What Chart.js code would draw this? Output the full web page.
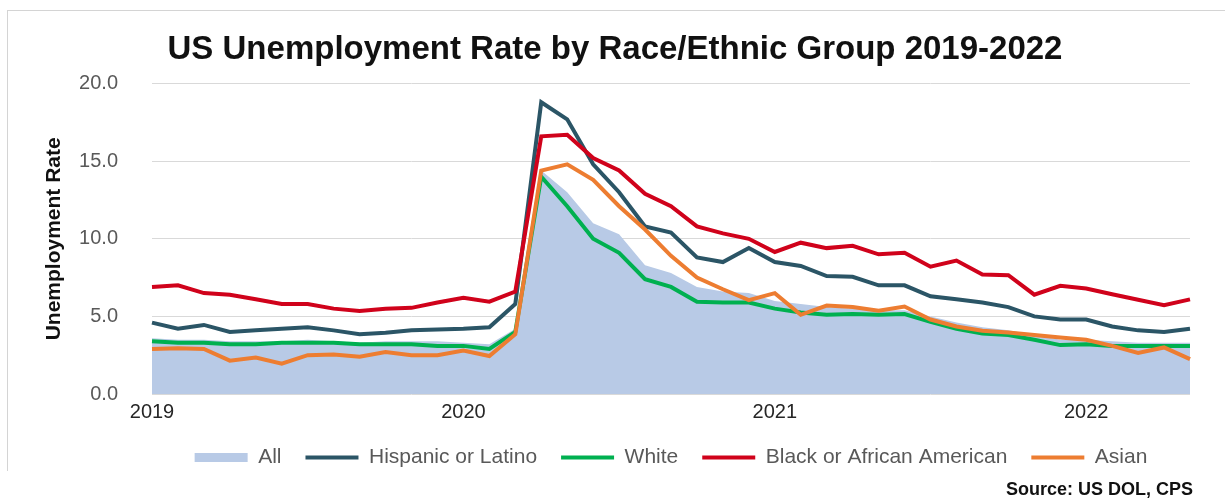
<!DOCTYPE html>
<html>
<head>
<meta charset="utf-8">
<script src="https://cdn.jsdelivr.net/npm/chart.js@4.4.1/dist/chart.umd.min.js"></script>
<style>
  html, body { margin: 0; padding: 0; background: #fff; overflow: hidden; }
  #wrap { position: relative; width: 1225px; height: 501px; }
  #frame { position: absolute; left: 7px; top: 10px; width: 1230px; height: 460px;
           border-left: 1px solid #d4d4d4; border-top: 1px solid #d4d4d4; }
  #source { position: absolute; left: 1006px; top: 479px; white-space: nowrap;
            font: bold 18px "Liberation Sans", Arial, sans-serif; color: #111; }
  canvas { position: absolute; left: 0; top: 0; }
</style>
</head>
<body>
<div id="wrap">
  <div id="frame"></div>
  <canvas id="rates" width="1225" height="501"></canvas>
  <div id="source">Source: US DOL, CPS</div>
</div>
<script>
// monthly categories, Jan 2019 .. May 2022
const months = [
  'Jan 2019','Feb 2019','Mar 2019','Apr 2019','May 2019','Jun 2019','Jul 2019','Aug 2019','Sep 2019','Oct 2019','Nov 2019','Dec 2019',
  'Jan 2020','Feb 2020','Mar 2020','Apr 2020','May 2020','Jun 2020','Jul 2020','Aug 2020','Sep 2020','Oct 2020','Nov 2020','Dec 2020',
  'Jan 2021','Feb 2021','Mar 2021','Apr 2021','May 2021','Jun 2021','Jul 2021','Aug 2021','Sep 2021','Oct 2021','Nov 2021','Dec 2021',
  'Jan 2022','Feb 2022','Mar 2022','Apr 2022','May 2022'
];

// unemployment rate, percent
const allRate = [
  3.6, 3.5, 3.5, 3.4, 3.4, 3.4, 3.5, 3.4, 3.3, 3.4, 3.4, 3.4,
  3.3, 3.2, 4.2, 14.4, 13.0, 11.0, 10.3, 8.3, 7.8, 6.9, 6.6, 6.5,
  6.0, 5.8, 5.6, 5.5, 5.4, 5.4, 5.0, 4.6, 4.3, 4.1, 3.8, 3.5,
  3.5, 3.4, 3.3, 3.3, 3.3
];
const hispanicRate = [
  4.6, 4.2, 4.45, 4.0, 4.1, 4.2, 4.3, 4.1, 3.85, 3.95, 4.1, 4.15,
  4.2, 4.3, 5.8, 18.8, 17.7, 14.8, 13.0, 10.8, 10.4, 8.8, 8.5, 9.4,
  8.5, 8.25, 7.6, 7.55, 7.0, 7.0, 6.3, 6.1, 5.9, 5.6, 5.0, 4.8,
  4.8, 4.35, 4.1, 4.0, 4.2
];
const whiteRate = [
  3.4, 3.3, 3.3, 3.2, 3.2, 3.3, 3.3, 3.3, 3.2, 3.2, 3.2, 3.1,
  3.1, 2.9, 4.0, 14.0, 12.1, 10.0, 9.1, 7.4, 6.9, 5.95, 5.9, 5.9,
  5.5, 5.25, 5.1, 5.15, 5.1, 5.15, 4.65, 4.2, 3.9, 3.8, 3.5, 3.15,
  3.2, 3.1, 3.1, 3.1, 3.1
];
const blackRate = [
  6.9, 7.0, 6.5, 6.4, 6.1, 5.8, 5.8, 5.5, 5.35, 5.5, 5.55, 5.9,
  6.2, 5.95, 6.6, 16.6, 16.7, 15.2, 14.4, 12.9, 12.1, 10.8, 10.35, 10.0,
  9.15, 9.75, 9.4, 9.55, 9.0, 9.1, 8.2, 8.6, 7.7, 7.65, 6.4, 6.97,
  6.8, 6.43, 6.07, 5.72, 6.1
];
const asianRate = [
  2.9, 2.95, 2.9, 2.15, 2.35, 1.95, 2.5, 2.55, 2.4, 2.7, 2.5, 2.5,
  2.8, 2.45, 3.85, 14.4, 14.8, 13.8, 12.1, 10.6, 8.9, 7.5, 6.75, 6.05,
  6.5, 5.1, 5.7, 5.6, 5.36, 5.64, 4.8, 4.35, 4.07, 3.97, 3.8, 3.64,
  3.5, 3.1, 2.64, 3.0, 2.25
];

const textFont = '"Liberation Sans", Arial, sans-serif';

function lineSet(label, data, color, order) {
  return {
    label: label,
    data: data,
    borderColor: color,
    backgroundColor: color,
    borderWidth: 4,
    pointRadius: 0,
    tension: 0,
    fill: false,
    pointStyle: 'line',
    order: order
  };
}

const ctx = document.getElementById('rates').getContext('2d');
new Chart(ctx, {
  type: 'line',
  data: {
    labels: months,
    datasets: [
      {
        label: 'All',
        data: allRate,
        backgroundColor: '#b8cae6',
        borderColor: '#b8cae6',
        borderWidth: 0,
        pointRadius: 0,
        fill: 'origin',
        pointStyle: 'rect',
        order: 5
      },
      lineSet('Hispanic or Latino', hispanicRate, '#2b5566', 4),
      lineSet('White', whiteRate, '#00b050', 3),
      lineSet('Black or African American', blackRate, '#d0021b', 2),
      lineSet('Asian', asianRate, '#ed7d31', 1)
    ]
  },
  options: {
    responsive: false,
    animation: false,
    layout: { padding: { left: 40, right: 35, top: 10, bottom: 23 } },
    plugins: {
      title: {
        display: true,
        text: 'US Unemployment Rate by Race/Ethnic Group 2019-2022',
        color: '#111',
        font: { family: textFont, size: 33, weight: 'bold' },
        padding: { top: 20, bottom: 14 }
      },
      legend: {
        position: 'bottom',
        fullSize: false,
        labels: {
          usePointStyle: true,
          pointStyleWidth: 53,
          boxHeight: 9,
          padding: 24,
          color: '#595959',
          font: { family: textFont, size: 21 },
          sort: (a, b) => a.datasetIndex - b.datasetIndex
        }
      },
      tooltip: { enabled: false }
    },
    scales: {
      x: {
        afterFit: (axis) => { axis.height = 29; },
        grid: { display: false, drawTicks: false },
        border: { display: false },
        ticks: {
          autoSkip: false,
          maxRotation: 0,
          padding: 8,
          color: '#262626',
          font: { family: textFont, size: 20, lineHeight: 1 },
          callback: function (val, idx) {
            const m = months[idx];
            return m.startsWith('Jan') ? m.slice(4) : '';
          }
        }
      },
      y: {
        min: 0,
        max: 20,
        afterFit: (axis) => { axis.width = 112; },
        grid: { color: '#d9d9d9', lineWidth: 1, drawTicks: false },
        border: { display: false },
        ticks: {
          stepSize: 5,
          padding: 34,
          color: '#595959',
          font: { family: textFont, size: 20 },
          callback: (v) => v.toFixed(1)
        },
        title: {
          display: true,
          text: 'Unemployment Rate',
          color: '#111',
          font: { family: textFont, size: 21, weight: 'bold' },
          padding: { top: 2, bottom: 0 }
        }
      }
    }
  }
});
</script>
</body>
</html>
